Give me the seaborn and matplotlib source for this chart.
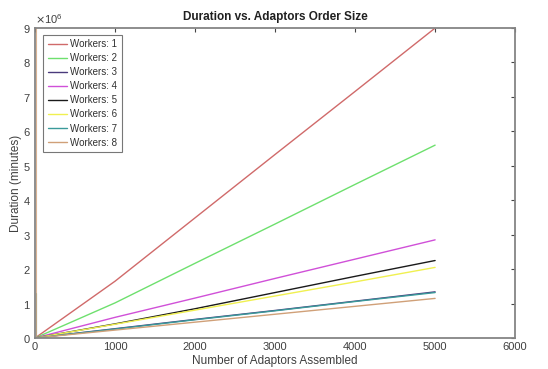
import matplotlib
matplotlib.use("Agg")
import matplotlib.pyplot as plt
import matplotlib.ticker as mticker
import seaborn as sns
import pandas as pd

# ---- data ----
adaptors = [0, 1000, 2000, 3000, 4000, 5000]
workers_labels = ["Workers: 1", "Workers: 2", "Workers: 3", "Workers: 4",
                  "Workers: 5", "Workers: 6", "Workers: 7", "Workers: 8"]
w1 = [0, 1.65e6, 3.49e6, 5.33e6, 7.16e6, 9.0e6]
w2 = [0, 1.02e6, 2.17e6, 3.31e6, 4.46e6, 5.6e6]
w3 = [0, 0.27e6, 0.54e6, 0.80e6, 1.07e6, 1.34e6]
w4 = [0, 0.60e6, 1.16e6, 1.73e6, 2.29e6, 2.85e6]
w5 = [0, 0.41e6, 0.85e6, 1.32e6, 1.79e6, 2.25e6]
w6 = [0, 0.40e6, 0.81e6, 1.22e6, 1.63e6, 2.05e6]
w7 = [0, 0.26e6, 0.53e6, 0.79e6, 1.06e6, 1.32e6]
w8 = [0, 0.23e6, 0.46e6, 0.69e6, 0.92e6, 1.15e6]
# initial near-vertical segments close to x = 0 seen for workers 7 and 8
spike_x = [12, 12]
spike7 = [0, 1.3e6]
spike8 = [0, 9.6e6]

colors = ["#d06a6a", "#6ee06e", "#4a3a7c", "#d050d8",
          "#1a1a1a", "#f0f050", "#3a9a9a", "#d0a078"]

series = [w1, w2, w3, w4, w5, w6, w7, w8]
rows = []
for lab, ys in zip(workers_labels, series):
    for x, y in zip(adaptors, ys):
        rows.append({"Adaptors": x, "Duration": y, "Workers": lab})
df = pd.DataFrame(rows)

sns.set_style("white")
plt.rcParams["font.family"] = ["Liberation Sans", "DejaVu Sans"]

fig = plt.figure(figsize=(5.48, 3.69), dpi=100)
ax = fig.add_axes([0.064, 0.084, 0.876, 0.840])

sns.lineplot(data=df, x="Adaptors", y="Duration", hue="Workers",
             palette=colors, hue_order=workers_labels, linewidth=1.0,
             estimator=None, sort=False, ax=ax)
ax.plot(spike_x, spike7, color=colors[6], linewidth=0.8, alpha=0.8)
ax.plot(spike_x, spike8, color=colors[7], linewidth=0.8, alpha=0.8)

ax.set_xlim(0, 6000)
ax.set_ylim(0, 9e6)
ax.set_xticks(range(0, 6001, 1000))
ax.set_yticks([i * 1e6 for i in range(10)])
fmt = mticker.ScalarFormatter(useMathText=True)
fmt.set_powerlimits((0, 0))
ax.yaxis.set_major_formatter(fmt)
ax.yaxis.get_offset_text().set_fontsize(8)
ax.yaxis.get_offset_text().set_color("#666666")

spine_c = "#858585"
for s in ax.spines.values():
    s.set_color(spine_c)
    s.set_linewidth(1.3)
ax.tick_params(direction="in", top=True, right=True, length=3,
               color="#444444", labelsize=8, labelcolor="#404040", pad=3)

ax.set_xlabel("Number of Adaptors Assembled", fontsize=8.5, color="#404040", labelpad=2)
ax.set_ylabel("Duration (minutes)", fontsize=8.5, color="#404040", labelpad=1)
ax.set_title("Duration vs. Adaptors Order Size", fontsize=8.5, fontweight="bold",
             color="#202020", pad=6)

leg = ax.legend(loc="upper left", bbox_to_anchor=(0.013, 0.985), fontsize=7,
                frameon=True, fancybox=False, edgecolor="#555555",
                handlelength=2.0, labelspacing=0.42, borderpad=0.45,
                handletextpad=0.35, borderaxespad=0.2)
leg.get_frame().set_linewidth(0.8)
for t in leg.get_texts():
    t.set_color("#303030")

fig.savefig("out.png", dpi=100, facecolor="white")
